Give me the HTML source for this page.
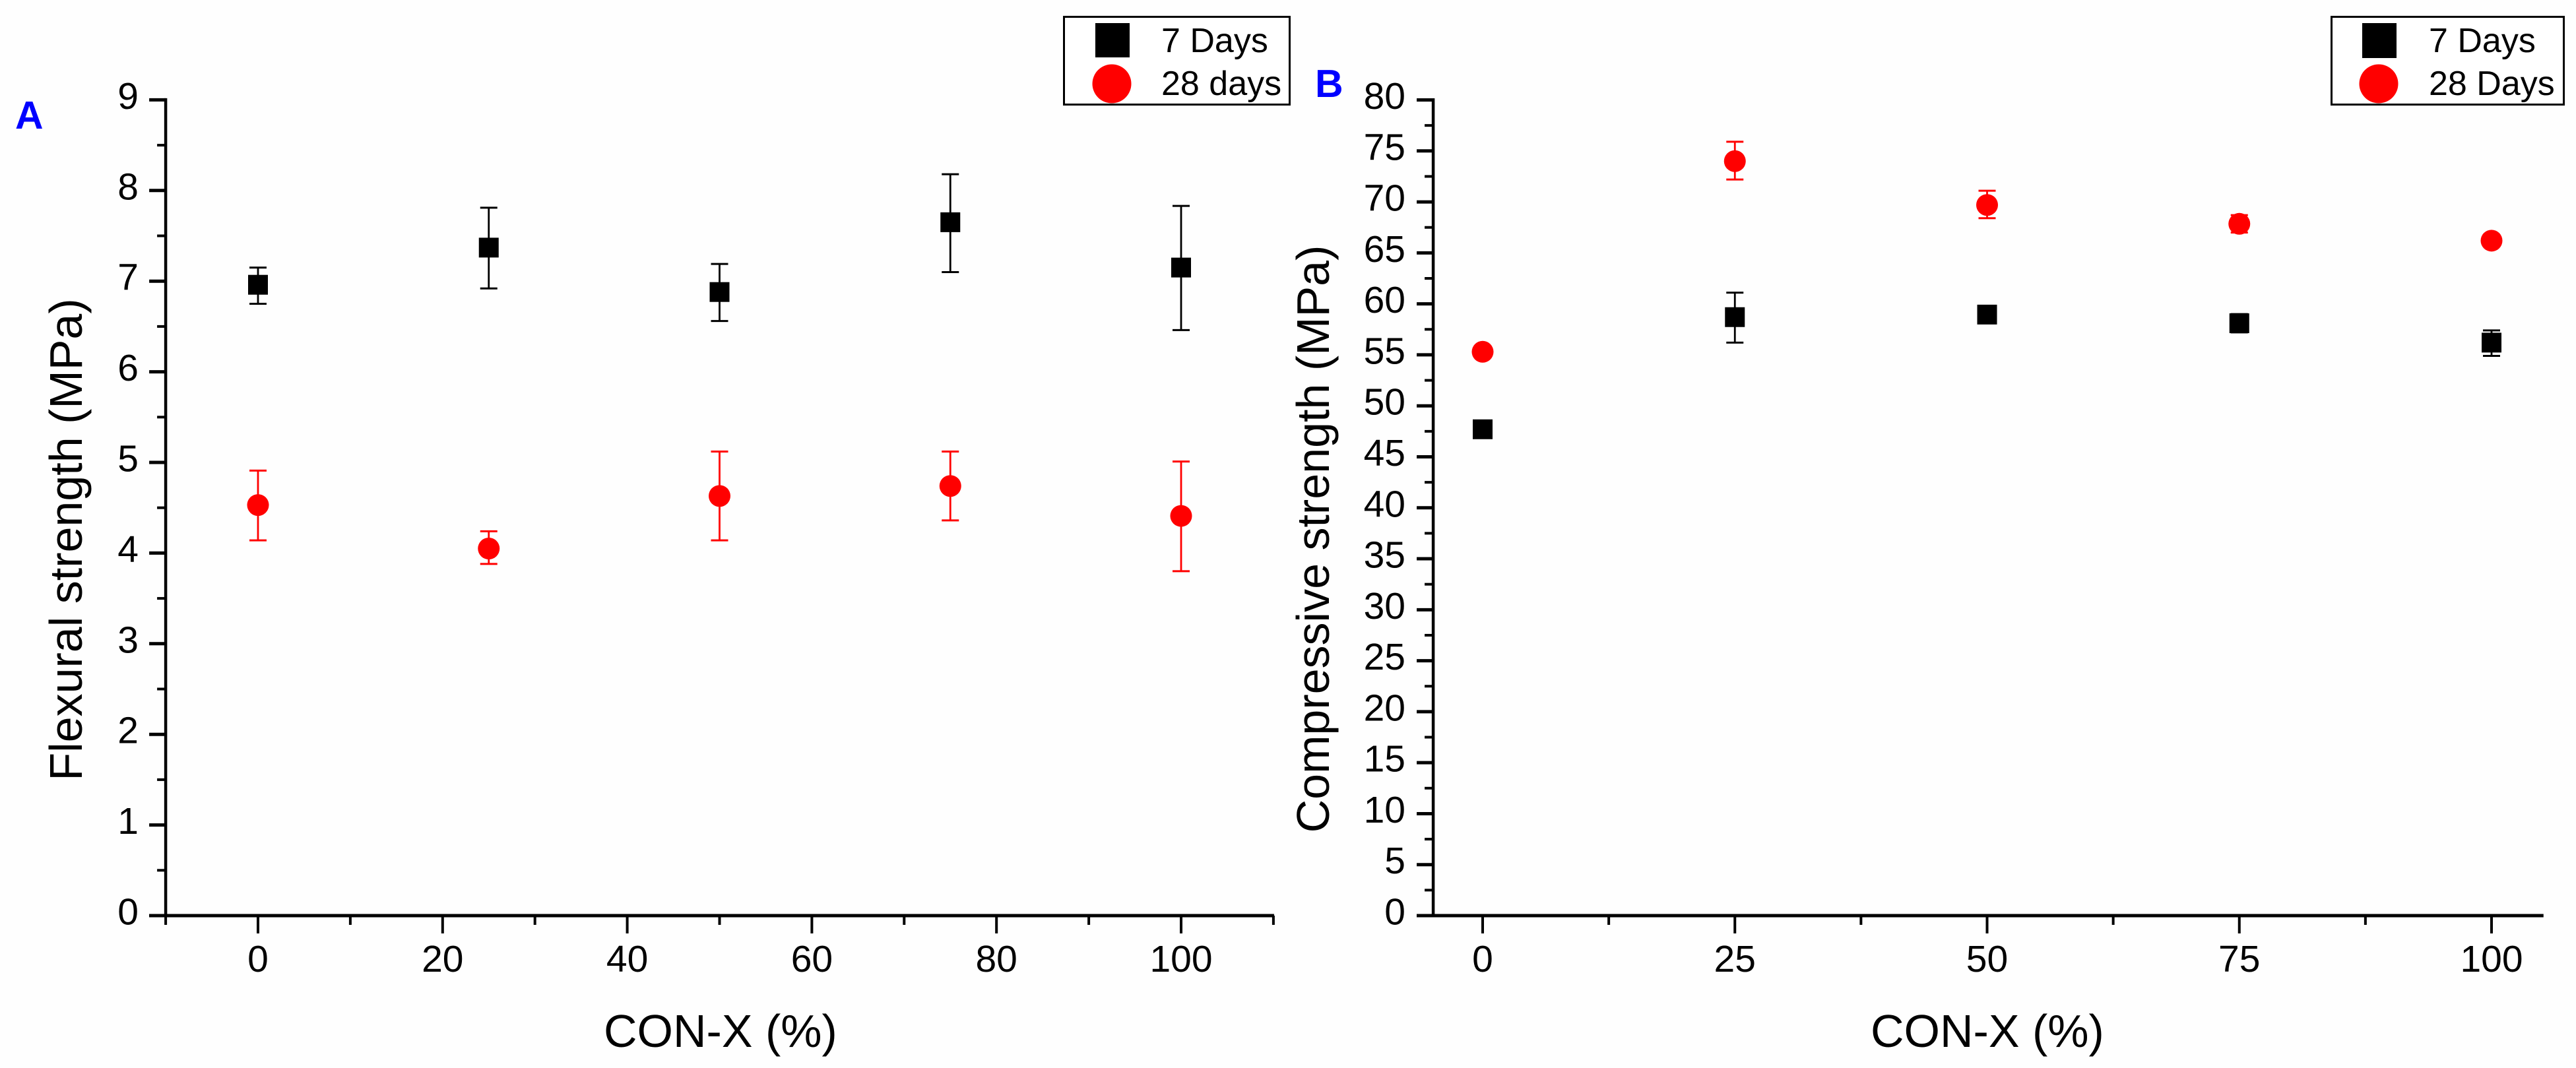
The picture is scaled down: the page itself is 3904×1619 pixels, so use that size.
<!DOCTYPE html>
<html lang="en">
<head>
<meta charset="utf-8">
<title>Flexural and compressive strength vs CON-X</title>
<style>
html,body{margin:0;padding:0;background:#fefefe;width:3904px;height:1619px;overflow:hidden}
svg{display:block}
text{font-family:"Liberation Sans",Arial,sans-serif;fill:#000}
</style>
</head>
<body>
<svg id="figure" xmlns="http://www.w3.org/2000/svg" width="3904" height="1619" viewBox="0 0 3904 1619">
  <rect x="0" y="0" width="3904" height="1619" fill="#fefefe"/>

  <text x="23" y="195" font-size="59" font-weight="700" style="fill:#0000ff">A</text>
  <text x="1993" y="147" font-size="59" font-weight="700" style="fill:#0000ff">B</text>

  <text transform="translate(124,818) rotate(-90)" text-anchor="middle" font-size="70">Flexural strength (MPa)</text>
  <text x="915" y="1587" font-size="70">CON-X (%)</text>
  <text transform="translate(2014,817) rotate(-90)" text-anchor="middle" font-size="70">Compressive strength (MPa)</text>
  <text x="2835" y="1587" font-size="70">CON-X (%)</text>

  <g id="panel-a"></g>
  <g id="panel-b"></g>

  <g>
    <rect x="1612.5" y="25.5" width="342" height="133" fill="#fff" stroke="#000" stroke-width="3"/>
    <rect x="1660" y="35" width="52" height="52" fill="#000"/>
    <circle cx="1685" cy="127" r="29.5" fill="#ff0000"/>
    <text x="1760" y="79" font-size="52">7 Days</text>
    <text x="1760" y="144" font-size="52">28 days</text>
  </g>
  <g>
    <rect x="3533.5" y="25.5" width="352" height="133" fill="#fff" stroke="#000" stroke-width="3"/>
    <rect x="3580" y="35" width="52" height="53" fill="#000"/>
    <circle cx="3605" cy="127" r="29.5" fill="#ff0000"/>
    <text x="3681" y="79" font-size="52">7 Days</text>
    <text x="3681" y="144" font-size="52">28 Days</text>
  </g>
</svg>
<script>
// Shared x categories (CON-X %)
const conX = [0, 25, 50, 75, 100];

// Panel A: flexural strength (MPa)
const flexural7Days = [6.96, 7.37, 6.88, 7.65, 7.15];
const flexural7Low = [6.75, 6.92, 6.56, 7.10, 6.46];
const flexural7High = [7.15, 7.81, 7.19, 8.18, 7.83];
const flexural28Days = [4.53, 4.05, 4.63, 4.74, 4.41];
const flexural28Low = [4.14, 3.88, 4.14, 4.36, 3.80];
const flexural28High = [4.91, 4.24, 5.12, 5.12, 5.01];
const flexuralXMajor = [0, 20, 40, 60, 80, 100];
const flexuralXMinor = [-10, 10, 30, 50, 70, 90, 110];
const flexuralYMajor = [0, 1, 2, 3, 4, 5, 6, 7, 8, 9];
const flexuralYMinor = [0.5, 1.5, 2.5, 3.5, 4.5, 5.5, 6.5, 7.5, 8.5];

// Panel B: compressive strength (MPa)
const compressive7Days = [47.7, 58.7, 58.95, 58.1, 56.2];
const compressive7Low = [47.4, 56.2, 58.4, 57.2, 54.9];
const compressive7High = [48.0, 61.1, 59.5, 59.0, 57.4];
const compressive28Days = [55.3, 74.0, 69.7, 67.85, 66.2];
const compressive28Low = [55.0, 72.2, 68.4, 67.0, 65.9];
const compressive28High = [55.6, 75.9, 71.1, 68.7, 66.5];
const compressiveXMajor = [0, 25, 50, 75, 100];
const compressiveXMinor = [12.5, 37.5, 62.5, 87.5];
const compressiveYMajor = [0, 5, 10, 15, 20, 25, 30, 35, 40, 45, 50, 55, 60, 65, 70, 75, 80];
const compressiveYMinor = [2.5, 7.5, 12.5, 17.5, 22.5, 27.5, 32.5, 37.5, 42.5, 47.5, 52.5, 57.5, 62.5, 67.5, 72.5, 77.5];

const SVG_NS = 'http://www.w3.org/2000/svg';

function make(parent, tag, props) {
  const el = document.createElementNS(SVG_NS, tag);
  for (const k in props) el.setAttribute(k, props[k]);
  parent.appendChild(el);
  return el;
}

function drawAxes(g, xScale, yScale, xMajor, xMinor, yMajor, yMinor, frame) {
  const x0 = frame.left, x1 = frame.right, y0 = frame.bottom, y1 = frame.top;
  const xLine = make(g, 'line', { x1: x0 - 25, x2: x1, y1: y0, y2: y0, stroke: '#000', 'stroke-width': 5 });
  
  
  const yLine = make(g, 'line', { x1: x0, x2: x0, y1: y1 - 2.5, y2: y0, stroke: '#000', 'stroke-width': 4.5 });
  
  

  xMajor.forEach(function (v) {
    const t = make(g, 'line', { x1: xScale(v), x2: xScale(v), y1: y0, y2: y0 + 27, stroke: '#000', 'stroke-width': 4 });
    
    
    const l = make(g, 'text', { x: xScale(v), y: 1473, 'text-anchor': 'middle', 'font-size': 57 });
    l.textContent = v;
    
    
  });
  xMinor.forEach(function (v) {
    const t = make(g, 'line', { x1: xScale(v), x2: xScale(v), y1: y0, y2: y0 + 14, stroke: '#000', 'stroke-width': 4 });
    
    
  });
  yMajor.forEach(function (v) {
    const t = make(g, 'line', { x1: x0 - 25, x2: x0, y1: yScale(v), y2: yScale(v), stroke: '#000', 'stroke-width': 5 });
    
    
    const l = make(g, 'text', { x: frame.labelX, y: yScale(v) + 13.5, 'text-anchor': 'end', 'font-size': 57 });
    l.textContent = v;
    
    
  });
  yMinor.forEach(function (v) {
    const t = make(g, 'line', { x1: x0 - 13, x2: x0, y1: yScale(v), y2: yScale(v), stroke: '#000', 'stroke-width': 4 });
    
    
  });
}

function drawSeries(g, xScale, yScale, values, lows, highs, color, shape) {
  conX.forEach(function (c, i) {
    const x = xScale(c), y = yScale(values[i]), lo = yScale(lows[i]), hi = yScale(highs[i]);
    const stem = make(g, 'line', { x1: x, x2: x, y1: hi, y2: lo, stroke: color, 'stroke-width': 2.8 });
    
    
    const capTop = make(g, 'line', { x1: x - 13, x2: x + 13, y1: hi, y2: hi, stroke: color, 'stroke-width': 3 });
    
    
    const capBottom = make(g, 'line', { x1: x - 13, x2: x + 13, y1: lo, y2: lo, stroke: color, 'stroke-width': 3 });
    
    
    let mark;
    if (shape === 'square') {
      mark = make(g, 'rect', { x: x - 15, y: y - 15, width: 30, height: 30, fill: color });
      
    } else {
      mark = make(g, 'circle', { cx: x, cy: y, r: 16.5, fill: color });
      
    }
    
  });
}

// Axis functions, panel A
function xA(v) { return 391 + v * 13.99; }
function yA(v) { return 1388 - v * 137.4; }
// Axis functions, panel B
function xB(v) { return 2247 + v * 15.29; }
function yB(v) { return 1388 - v * 15.456; }

const panelA = document.getElementById('panel-a');
const panelB = document.getElementById('panel-b');

drawAxes(panelA, xA, yA, flexuralXMajor, flexuralXMinor, flexuralYMajor, flexuralYMinor,
  { left: xA(-10), right: xA(110) + 1, bottom: yA(0), top: yA(9), labelX: 210 });
drawSeries(panelA, xA, yA, flexural7Days, flexural7Low, flexural7High, '#000000', 'square');
drawSeries(panelA, xA, yA, flexural28Days, flexural28Low, flexural28High, '#ff0000', 'circle');

drawAxes(panelB, xB, yB, compressiveXMajor, compressiveXMinor, compressiveYMajor, compressiveYMinor,
  { left: xB(-4.9), right: xB(105.15), bottom: yB(0), top: yB(80), labelX: 2130 });
drawSeries(panelB, xB, yB, compressive7Days, compressive7Low, compressive7High, '#000000', 'square');
drawSeries(panelB, xB, yB, compressive28Days, compressive28Low, compressive28High, '#ff0000', 'circle');
</script>
</body>
</html>
